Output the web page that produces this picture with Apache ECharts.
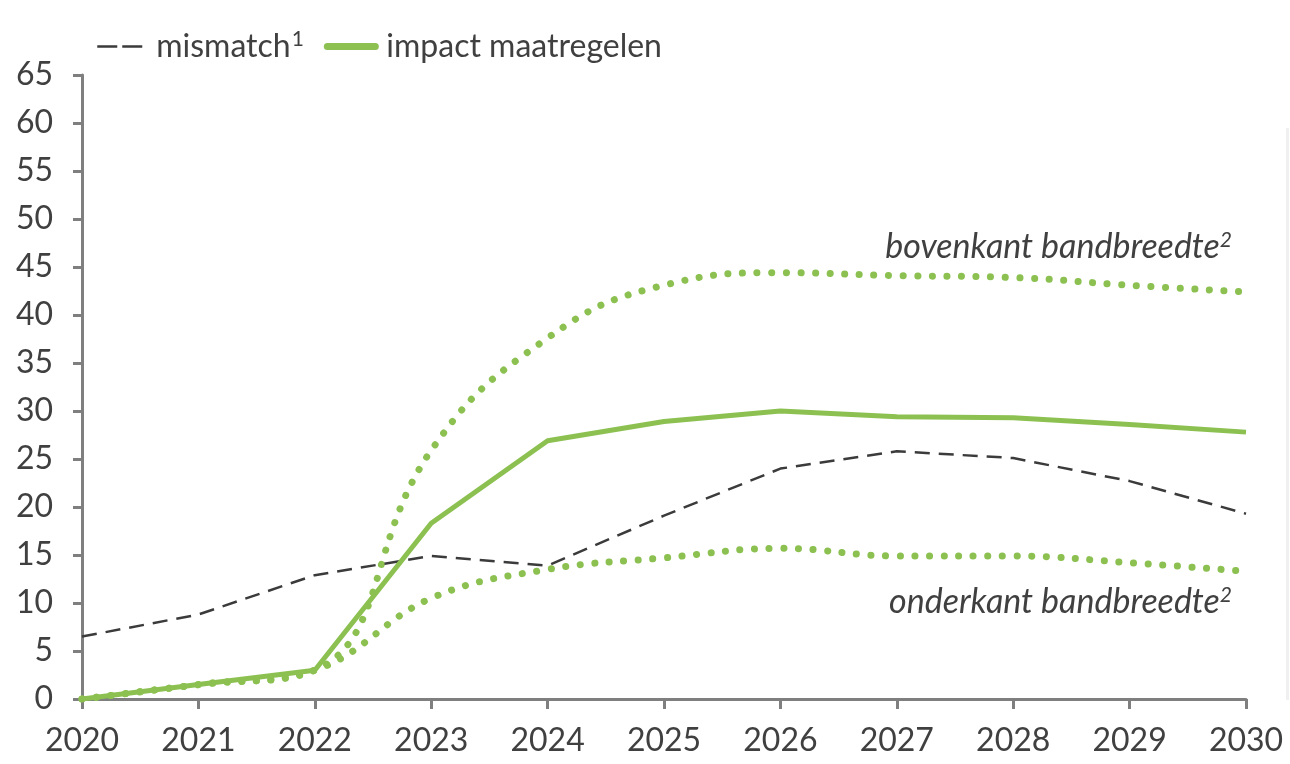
<!DOCTYPE html>
<html>
<head>
<meta charset="utf-8">
<script src="https://cdn.jsdelivr.net/npm/echarts@6/dist/echarts.min.js"></script>
<style>
html,body{margin:0;padding:0;background:#fff;}
#chart{width:1290px;height:764px;}
</style>
</head>
<body>
<div id="chart"></div>
<script>
const years = ['2020','2021','2022','2023','2024','2025','2026','2027','2028','2029','2030'];
const mismatch = [6.5, 8.8, 12.9, 14.9, 13.9, 19.1, 24.0, 25.8, 25.1, 22.7, 19.3];
const impact = [0, 1.5, 3.0, 18.3, 26.9, 28.9, 30.0, 29.4, 29.3, 28.6, 27.8];
const upperBand = [0, 1.5, 3.0, 25.9, 37.6, 43.1, 44.4, 44.1, 43.9, 43.1, 42.4];
const lowerBand = [0, 1.5, 3.0, 10.5, 13.5, 14.7, 15.7, 14.9, 14.9, 14.2, 13.3];
const yTicks = [0, 65, 5];

const green = '#8cc152';
const dark = '#3b3b3b';
const axisGray = '#7f7f7f';
const textColor = '#404040';
const font = 'Lato';

const chart = echarts.init(document.getElementById('chart'), null, {renderer: 'canvas'});
chart.setOption({
  animation: false,
  backgroundColor: '#ffffff',
  grid: {left: 82, right: 44, top: 75, bottom: 65, containLabel: false},
  legend: {
    data: [
      {name: 'mismatch', lineStyle: {type: [20, 5], width: 2.5}},
      {name: 'impact maatregelen', lineStyle: {width: 7, cap: 'round'}}
    ],
    left: 91, top: 24,
    itemWidth: 48, itemHeight: 12, itemGap: 20,
    itemStyle: {opacity: 0},
    formatter: function (name) {
      return name === 'mismatch' ? '{p|}mismatch{sup|1}' : '{p|}' + name;
    },
    textStyle: {
      fontFamily: font, fontSize: 32, color: textColor,
      rich: {
        p: {width: 6},
        sup: {fontFamily: font, fontSize: 21, color: textColor, verticalAlign: 'top', padding: [0,0,14,1]}
      }
    }
  },
  xAxis: {
    type: 'category', data: years, boundaryGap: false,
    axisLine: {lineStyle: {color: axisGray, width: 3}},
    axisTick: {show: true, length: 10, lineStyle: {color: axisGray, width: 3}, alignWithLabel: true},
    axisLabel: {fontFamily: font, fontSize: 32, color: textColor, margin: 26, showMinLabel: true, showMaxLabel: true},
    splitLine: {show: false}
  },
  yAxis: {
    type: 'value', min: yTicks[0], max: yTicks[1], interval: yTicks[2],
    axisLine: {show: true, lineStyle: {color: axisGray, width: 3}},
    axisTick: {show: true, length: 9, lineStyle: {color: axisGray, width: 3}},
    axisLabel: {fontFamily: font, fontSize: 32, color: textColor, margin: 29},
    splitLine: {show: false}
  },
  series: [
    {
      name: 'upper', type: 'line', data: upperBand, smooth: 0.45, symbol: 'none',
      lineStyle: {color: green, width: 7, type: [0.1, 14.5], cap: 'round'}, z: 2
    },
    {
      name: 'lower', type: 'line', data: lowerBand, smooth: 0.4, symbol: 'none',
      lineStyle: {color: green, width: 7, type: [0.1, 14.5], cap: 'round'}, z: 2
    },
    {
      name: 'mismatch', type: 'line', data: mismatch, symbol: 'none',
      itemStyle: {color: dark},
      lineStyle: {color: dark, width: 2.5, type: [15, 9]}, z: 3
    },
    {
      name: 'impact maatregelen', type: 'line', data: impact, symbol: 'none',
      itemStyle: {color: green},
      lineStyle: {color: green, width: 5}, z: 4
    }
  ],
  graphic: [
    {
      type: 'text', right: 58, top: 230,
      style: {
        text: '{t|bovenkant bandbreedte}{s|2}',
        rich: {
          t: {fontFamily: font, fontStyle: 'italic', fontSize: 34, fill: textColor},
          s: {fontFamily: font, fontStyle: 'italic', fontSize: 21, fill: textColor, verticalAlign: 'top', padding: [0,0,14,0]}
        }
      }
    },
    {
      type: 'text', right: 58, top: 585,
      style: {
        text: '{t|onderkant bandbreedte}{s|2}',
        rich: {
          t: {fontFamily: font, fontStyle: 'italic', fontSize: 34, fill: textColor},
          s: {fontFamily: font, fontStyle: 'italic', fontSize: 21, fill: textColor, verticalAlign: 'top', padding: [0,0,14,0]}
        }
      }
    },
    {
      type: 'rect', left: 1286, top: 128, shape: {width: 3, height: 572},
      style: {fill: '#f0f0f0'}
    }
  ]
});
</script>
</body>
</html>
